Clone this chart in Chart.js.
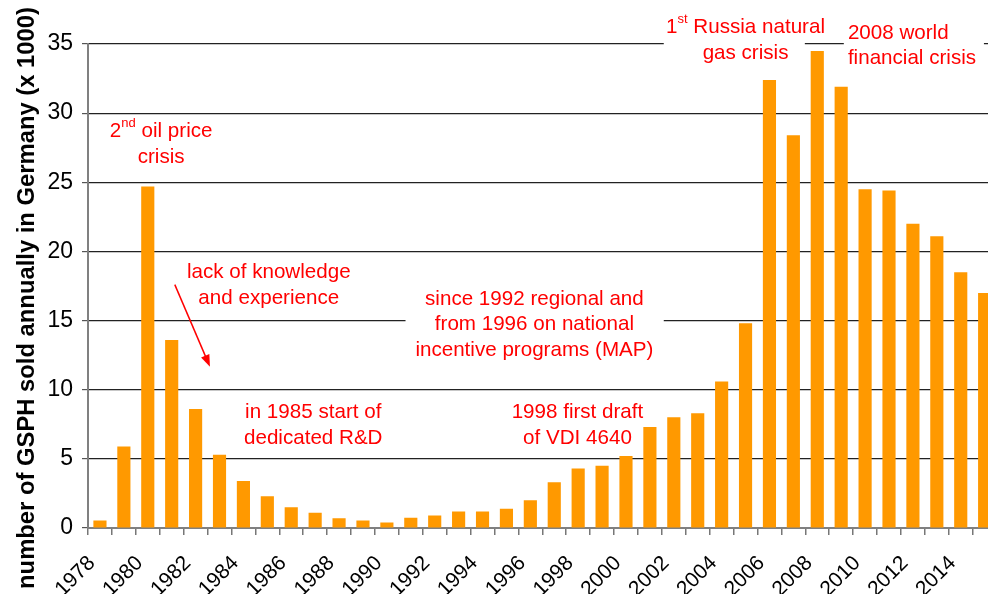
<!DOCTYPE html>
<html>
<head>
<meta charset="utf-8">
<script src="https://cdn.jsdelivr.net/npm/chart.js@4.4.0/dist/chart.umd.min.js"></script>
<style>
    html, body { margin: 0; padding: 0; background: #fff; overflow: hidden; }
    #wrap { width: 1000px; height: 594px; }
</style>
</head>
<body>
<div id="wrap"><canvas id="myChart"></canvas></div>
<script>
const years = ['1978', '1979', '1980', '1981', '1982', '1983', '1984', '1985', '1986', '1987',
    '1988', '1989', '1990', '1991', '1992', '1993', '1994', '1995', '1996', '1997',
    '1998', '1999', '2000', '2001', '2002', '2003', '2004', '2005', '2006', '2007',
    '2008', '2009', '2010', '2011', '2012', '2013', '2014', '2015'];
const sales = [0.55, 5.9, 24.7, 13.6, 8.6, 5.3, 3.4, 2.3, 1.5, 1.1,
    0.7, 0.55, 0.4, 0.75, 0.9, 1.2, 1.2, 1.4, 2.0, 3.3,
    4.3, 4.5, 5.2, 7.3, 8.0, 8.3, 10.6, 14.8, 32.4, 28.4,
    34.5, 31.9, 24.5, 24.4, 22.0, 21.1, 18.5, 17.0];
const yTicks = [0, 5, 10, 15, 20, 25, 30, 35];
const yTitle = 'number of GSPH sold annually in Germany (x 1000)';

// notes: text with ^..^ = superscript, position in (year, value)
const notes = [
    { text: ['2^nd^ oil price', 'crisis'], year: 1980.56, value: 28.65 },
    { text: ['lack of knowledge', 'and experience'], year: 1985.06, value: 18.5 },
    { text: ['in 1985 start of', 'dedicated R&D'], year: 1986.92, value: 8.34 },
    { text: ['since 1992 regional and', 'from 1996 on national', 'incentive programs (MAP)'], year: 1996.17, value: 16.57 },
    { text: ['1998 first draft', 'of VDI 4640'], year: 1997.97, value: 8.34 },
    { text: ['1^st^ Russia natural', 'gas crisis'], year: 2005.0, value: 36.2 },
    { text: ['2008 world', 'financial crisis'], year: 2009.28, value: 35.8, align: 'left' },
];
// white boxes behind notes that cut the grid lines
const noteBoxes = [
    { from: 1990.78, to: 2001.58, top: 17.9, bottom: 12.3 },
    { from: 2001.58, to: 2007.48, top: 37.5, bottom: 33.6 },
    { from: 2009.11, to: 2014.97, top: 37.5, bottom: 33.6 },
];
const arrow = { from: [1981.13, 17.6], to: [1982.6, 11.66] };

const FONT = '"Liberation Sans", Arial, sans-serif';
const RED = '#ff0000';

function xAt(chart, year) {
    const x = chart.scales.x;
    const step = x.getPixelForValue(1) - x.getPixelForValue(0);
    return x.getPixelForValue(0) + (year - 1978) * step;
}

function yAt(chart, value) {
    return chart.scales.y.getPixelForValue(value);
}

function drawRichLine(ctx, line, x, y, align) {
    const parts = line.split('^');
    const big = '20.6px ' + FONT;
    const small = '13px ' + FONT;
    let total = 0;
    parts.forEach((p, i) => {
        ctx.font = i % 2 ? small : big;
        total += ctx.measureText(p).width;
    });
    let cx = align === 'left' ? x : x - total / 2;
    parts.forEach((p, i) => {
        ctx.font = i % 2 ? small : big;
        ctx.textAlign = 'left';
        ctx.textBaseline = 'middle';
        ctx.fillText(p, cx, i % 2 ? y - 8 : y);
        cx += ctx.measureText(p).width;
    });
}

const annotations = {
    id: 'annotations',
    beforeDatasetsDraw(chart) {
        const ctx = chart.ctx;
        ctx.save();
        ctx.fillStyle = '#ffffff';
        noteBoxes.forEach((b) => {
            const x1 = xAt(chart, b.from);
            const x2 = xAt(chart, b.to);
            const y1 = yAt(chart, b.top);
            const y2 = yAt(chart, b.bottom);
            ctx.fillRect(x1, y1, x2 - x1, y2 - y1);
        });
        ctx.restore();
    },
    afterDatasetsDraw(chart) {
        const ctx = chart.ctx;
        ctx.save();

        // y axis title
        const ys = chart.scales.y;
        ctx.fillStyle = '#000000';
        ctx.font = 'bold 23.8px ' + FONT;
        ctx.textAlign = 'center';
        ctx.textBaseline = 'middle';
        ctx.translate(27, (ys.top + ys.bottom) / 2 + 12);
        ctx.rotate(-Math.PI / 2);
        ctx.fillText(yTitle, 0, 0);
        ctx.setTransform(1, 0, 0, 1, 0, 0);

        ctx.fillStyle = RED;
        notes.forEach((n) => {
            const x = xAt(chart, n.year);
            const y = yAt(chart, n.value);
            n.text.forEach((line, i) => {
                drawRichLine(ctx, line, x, y + i * 25.8, n.align);
            });
        });

        // arrow
        const x1 = xAt(chart, arrow.from[0]);
        const y1 = yAt(chart, arrow.from[1]);
        const x2 = xAt(chart, arrow.to[0]);
        const y2 = yAt(chart, arrow.to[1]);
        const ang = Math.atan2(y2 - y1, x2 - x1);
        ctx.strokeStyle = RED;
        ctx.lineWidth = 1.5;
        ctx.beginPath();
        ctx.moveTo(x1, y1);
        ctx.lineTo(x2 - 8 * Math.cos(ang), y2 - 8 * Math.sin(ang));
        ctx.stroke();
        ctx.beginPath();
        ctx.moveTo(x2, y2);
        ctx.lineTo(x2 - 12 * Math.cos(ang) + 4.5 * Math.sin(ang), y2 - 12 * Math.sin(ang) - 4.5 * Math.cos(ang));
        ctx.lineTo(x2 - 12 * Math.cos(ang) - 4.5 * Math.sin(ang), y2 - 12 * Math.sin(ang) + 4.5 * Math.cos(ang));
        ctx.closePath();
        ctx.fill();
        ctx.restore();
    }
};

const ctx = document.getElementById('myChart').getContext('2d');
const chart = new Chart(ctx, {
    type: 'bar',
    data: {
        labels: years,
        datasets: [{
            label: 'GSPH sold',
            data: sales,
            backgroundColor: '#ff9900',
            borderWidth: 0,
            barPercentage: 0.55,
            categoryPercentage: 1.0,
        }]
    },
    options: {
        responsive: true,
        maintainAspectRatio: false,
        animation: false,
        layout: { padding: { top: 44, right: 3.4, left: 0, bottom: 0 } },
        plugins: {
            legend: { display: false },
            tooltip: { enabled: false },
        },
        scales: {
            x: {
                offset: true,
                grid: {
                    offset: true,
                    drawOnChartArea: false,
                    drawTicks: true,
                    tickLength: 7,
                    color: '#777777',
                    lineWidth: 1.5,
                },
                border: { color: '#808080', width: 2 },
                ticks: {
                    autoSkip: false,
                    minRotation: 45,
                    maxRotation: 45,
                    color: '#000000',
                    padding: 16,
                    labelOffset: -8,
                    font: { family: FONT, size: 21 },
                    callback: (val, i) => (i % 2 === 0 ? years[i] : ''),
                },
                afterFit: (scale) => {
                    scale.height = 66;
                    scale.paddingLeft = 0;
                    scale.paddingRight = 0;
                },
            },
            y: {
                min: 0,
                max: 35,
                afterBuildTicks: (scale) => { scale.ticks = yTicks.map((v) => ({ value: v })); },
                grid: {
                    color: (c) => (c.tick && c.tick.value === 0 ? 'rgba(0,0,0,0)' : '#222222'),
                    lineWidth: 1.2,
                    tickLength: 6,
                    tickColor: '#555555',
                },
                border: { color: '#808080', width: 2 },
                ticks: {
                    color: '#000000',
                    padding: 9,
                    font: { family: FONT, size: 23 },
                },
                afterFit: (scale) => { scale.width = 88; },
            }
        }
    },
    plugins: [annotations]
});
</script>
</body>
</html>
